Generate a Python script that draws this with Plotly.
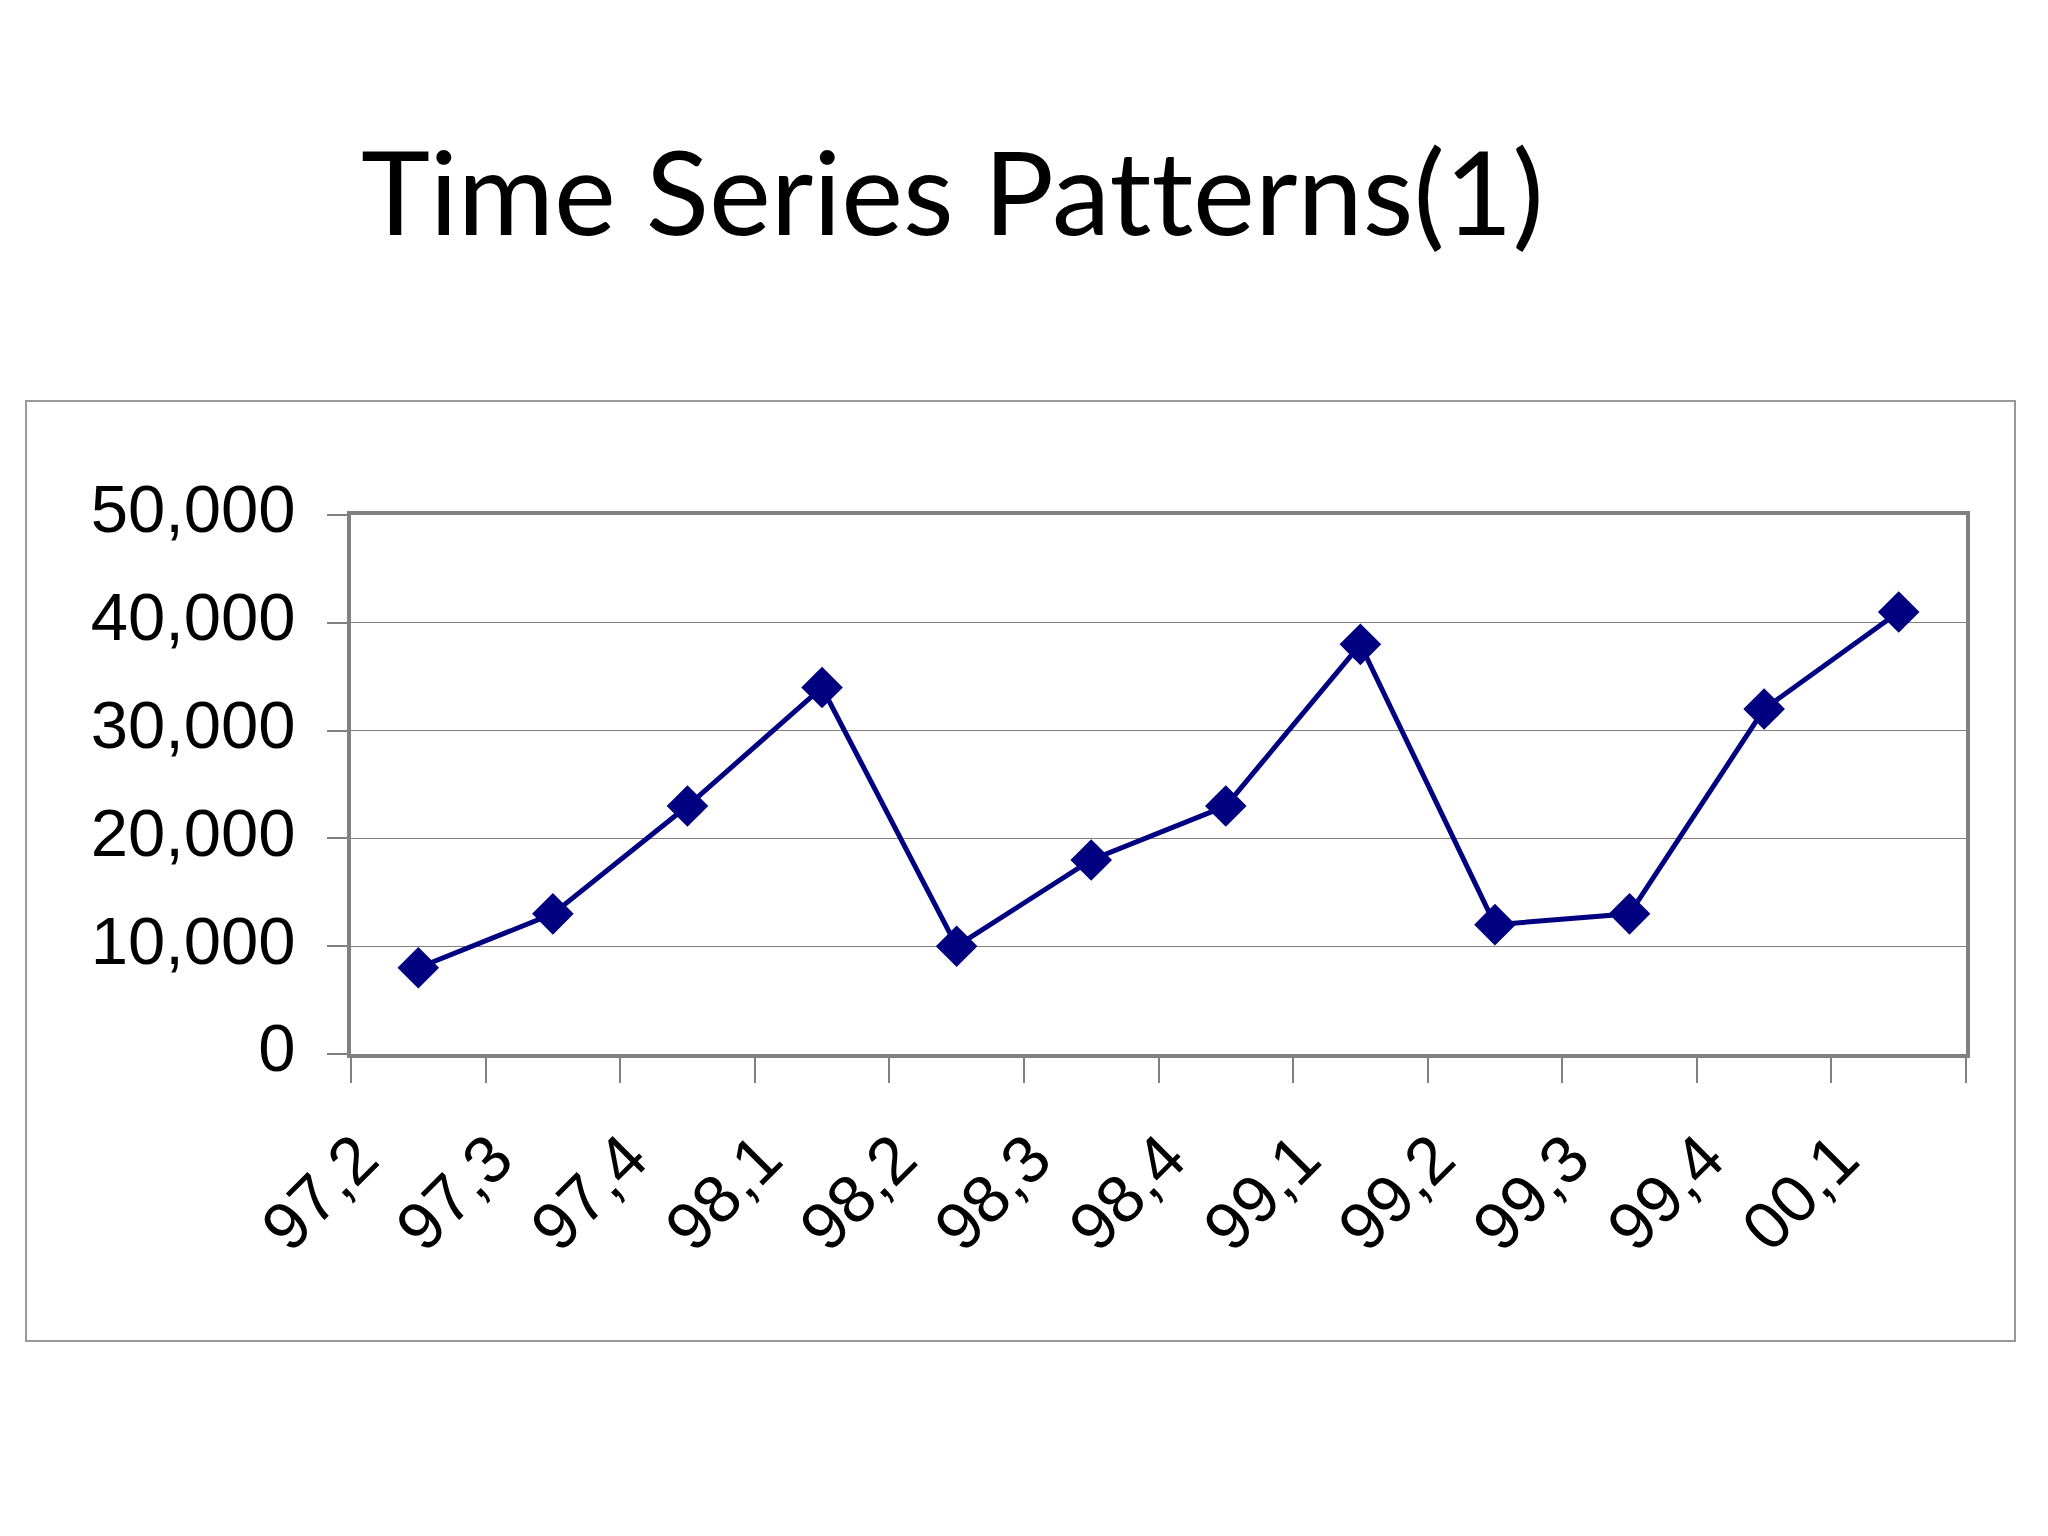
import plotly.graph_objects as go

categories = ["97,2", "97,3", "97,4", "98,1", "98,2", "98,3", "98,4",
              "99,1", "99,2", "99,3", "99,4", "00,1"]
values = [8000, 13000, 23000, 34000, 10000, 18000, 23000,
          38000, 12000, 13000, 32000, 41000]
y_ticks = [0, 10000, 20000, 30000, 40000, 50000]
y_tick_labels = ["0", "10,000", "20,000", "30,000", "40,000", "50,000"]
title_text = "Time Series Pat\u200cterns(1)"

W, H = 2048, 1536
OFF = 8  # page body margin
PL, PR, PT, PB = 351 - OFF, 1966 - OFF, 515 - OFF, 1054 - OFF
pw, ph = PR - PL, PB - PT

def px(x):
    return (x - OFF - PL) / pw

def py(y):
    return (PB - (y - OFF)) / ph

fig = go.Figure()
fig.add_trace(go.Scatter(
    x=categories, y=values, mode="lines+markers",
    line=dict(color="#000080", width=5),
    marker=dict(symbol="diamond", size=32, color="#000080"),
    showlegend=False, cliponaxis=False,
))

fig.update_layout(
    width=W, height=H,
    margin=dict(l=PL, r=W - PR, t=PT, b=H - PB, pad=0),
    paper_bgcolor="white", plot_bgcolor="white",
    font=dict(family="Liberation Sans, Arial, sans-serif", color="black"),
    xaxis=dict(
        type="category", tickson="boundaries",
        ticks="outside", ticklen=25, tickcolor="#808080", tickwidth=2,
        showgrid=False, showline=True, linecolor="#808080", linewidth=4,
        mirror=True, tickangle=-45,
        tickfont=dict(size=67, family="Liberation Sans, Arial, sans-serif"),
        ticklabelstandoff=34, ticklabelshift=-60,
        range=[-0.5, len(categories) - 0.5],
    ),
    yaxis=dict(
        range=[0, 50000], tickvals=y_ticks, ticktext=y_tick_labels,
        ticks="outside", ticklen=20, tickcolor="#808080", tickwidth=2,
        showgrid=True, gridcolor="#808080", gridwidth=1,
        showline=True, linecolor="#808080", linewidth=4, mirror=True,
        zeroline=False,
        tickfont=dict(size=67, family="Liberation Sans, Arial, sans-serif"),
        ticklabelstandoff=18, ticklabelshift=-6,
    ),
    shapes=[dict(
        type="rect", xref="paper", yref="paper",
        x0=px(26), x1=px(2015), y0=py(1341), y1=py(401),
        line=dict(color="#999999", width=2), fillcolor="rgba(0,0,0,0)",
        layer="below",
    )],
    annotations=[dict(
        text=title_text, xref="paper", yref="paper",
        x=px(952), y=py(190), xanchor="center", yanchor="middle",
        showarrow=False,
        font=dict(family="Lato, Noto Sans, sans-serif", size=117, color="black"),
    )],
)

fig.write_html("out.html")
